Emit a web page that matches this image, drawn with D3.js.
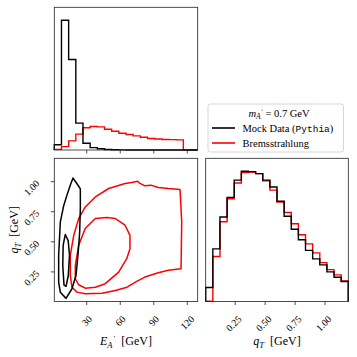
<!DOCTYPE html>
<html><head><meta charset="utf-8">
<script src="https://cdn.jsdelivr.net/npm/d3@7"></script>
<style>body{margin:0;background:#fff} svg{display:block}</style>
</head><body>
<svg id="c" width="357" height="357"></svg>
<script>
// ---------- data ----------
const eRange = [1.0, 129.3];      // E_A' histogram / axis range [GeV]
const qRange = [0.004, 1.194];    // q_T histogram / axis range [GeV]
const nBins = 20;
const eHistMock = [4.1, 100, 69.8, 20.7, 5.2, 1.8, 1.0, 0.4, 0.2, 0.1, 0, 0, 0, 0, 0, 0, 0, 0, 0, 0];
const eHistBrem = [0.5, 2.6, 7.0, 12.2, 17.1, 18.1, 17.8, 16.0, 14.5, 12.9, 11.9, 10.9, 9.8, 8.9, 8.5, 8.1, 8.0, 7.8, 0, 0];
const qHistMock = [14, 52.5, 84.2, 103.8, 121, 129.8, 129.5, 127.5, 121, 114.2, 100, 85, 72, 61.5, 51, 42.5, 36.5, 29.5, 24.2, 20];
const qHistBrem = [0.3, 44.8, 79.5, 102.5, 118.2, 128.5, 129, 127.5, 120.3, 111, 99.2, 88.8, 77.5, 66.5, 57.5, 48.5, 38.8, 31.8, 26.5, 20.5];
const eTicks = [30, 60, 90, 120];
const eTickLabels = ["30", "60", "90", "120"];
const qTicks = [0.25, 0.5, 0.75, 1.0];
const qTickLabels = ["0.25", "0.50", "0.75", "1.00"];
// 2D contours [E_A', q_T]
const mockOuter = [[17.7,1.03],[22.2,0.97],[24.3,0.94],[24.3,0.78],[23.7,0.58],[22.2,0.39],[20.4,0.22],[16.8,0.11],[11.5,0.03],[6.4,0.08],[4.9,0.165],[4.9,0.39],[6.4,0.665],[9.4,0.80],[12.4,0.89],[15.3,0.97]];
const mockInner = [[10.8,0.56],[13.4,0.51],[14.6,0.39],[13.5,0.22],[11.5,0.13],[9.7,0.14],[8.6,0.30],[8.9,0.47]];
const bremOuter = [[16.8,0.123],[21.3,0.082],[28.7,0.068],[43.7,0.073],[55.6,0.096],[66.0,0.123],[74.7,0.171],[82.1,0.207],[94.0,0.243],[103.0,0.263],[114.4,0.277],[115.0,0.665],[113.5,0.935],[103.0,0.943],[94.0,0.952],[87.5,0.971],[82.1,0.965],[77.7,0.985],[75.6,1.004],[70.2,0.993],[64.3,0.985],[49.7,0.943],[37.7,0.873],[28.7,0.790],[22.8,0.693],[18.4,0.554],[15.3,0.388],[15.3,0.221]];
const bremInner = [[48.1,0.702],[37.7,0.693],[28.7,0.61],[22.8,0.471],[19.8,0.304],[19.8,0.193],[22.8,0.143],[28.7,0.115],[37.7,0.123],[46.6,0.152],[58.6,0.248],[65.8,0.36],[68.7,0.443],[68.7,0.554],[64.3,0.638],[55.6,0.693]];
const seriesNames = ["Mock Data (", "Pythia", ")"];
const seriesColors = ["#000000", "#ff0000"];

// ---------- layout ----------
const svg = d3.select("#c");
const FONT = "'Liberation Serif', 'DejaVu Serif', serif";
const P1 = {x0: 54.3, x1: 197.7, y0: 7.3, y1: 150};      // top-left
const P2 = {x0: 54.3, x1: 197.7, y0: 158.3, y1: 301.5};  // bottom-left
const P3 = {x0: 205.7, x1: 348.3, y0: 158.3, y1: 301.5}; // bottom-right

const xE = d3.scaleLinear().domain(eRange).range([P1.x0, P1.x1]);
const xQ = d3.scaleLinear().domain(qRange).range([P3.x0, P3.x1]);
const yQ = d3.scaleLinear().domain(qRange).range([P2.y1, P2.y0]);
const yH1 = d3.scaleLinear().domain([0, 1.1 * d3.max(eHistMock.concat(eHistBrem))]).range([P1.y1, P1.y0]);
const yH3 = d3.scaleLinear().domain([0, 1.1 * d3.max(qHistMock.concat(qHistBrem))]).range([P3.y1, P3.y0]);

function edges(range) {
  const s = d3.scaleLinear().domain([0, nBins]).range(range);
  return d3.range(nBins + 1).map(s);
}
function stepPath(vals, ed, xs, ys) {
  const pts = [[xs(ed[0]), ys(0)]];
  vals.forEach((v, i) => { pts.push([xs(ed[i]), ys(v)]); pts.push([xs(ed[i+1]), ys(v)]); });
  pts.push([xs(ed[nBins]), ys(0)]);
  return d3.line()(pts);
}

// top histogram
const eEd = edges(eRange);
[[eHistBrem, seriesColors[1]], [eHistMock, seriesColors[0]]].forEach(([v, c]) => {
  svg.append("path").attr("d", stepPath(v, eEd, xE, yH1)).attr("fill", "none")
    .attr("stroke", c).attr("stroke-width", 1.4).attr("stroke-linejoin", "miter");
});
// right histogram
const qEd = edges(qRange);
[[qHistBrem, seriesColors[1]], [qHistMock, seriesColors[0]]].forEach(([v, c]) => {
  svg.append("path").attr("d", stepPath(v, qEd, xQ, yH3)).attr("fill", "none")
    .attr("stroke", c).attr("stroke-width", 1.4).attr("stroke-linejoin", "miter");
});
// contours
const cl = d3.line().x(d => xE(d[0])).y(d => yQ(d[1])).curve(d3.curveLinearClosed);
[[bremOuter, seriesColors[1]], [bremInner, seriesColors[1]], [mockOuter, seriesColors[0]], [mockInner, seriesColors[0]]].forEach(([pts, c]) => {
  svg.append("path").attr("d", cl(pts)).attr("fill", "none").attr("stroke", c)
    .attr("stroke-width", 1.5).attr("stroke-linejoin", "round");
});

// frames
[P1, P2, P3].forEach(p => {
  svg.append("rect").attr("x", p.x0).attr("y", p.y0).attr("width", p.x1 - p.x0).attr("height", p.y1 - p.y0)
    .attr("fill", "none").attr("stroke", "#222").attr("stroke-width", 0.8);
});

// ticks
function xTicks(p, sc, ticks) {
  ticks.forEach(t => svg.append("line").attr("x1", sc(t)).attr("x2", sc(t)).attr("y1", p.y1).attr("y2", p.y1 + 3.5)
    .attr("stroke", "#222").attr("stroke-width", 0.8));
}
xTicks(P1, xE, eTicks);
xTicks(P2, xE, eTicks);
xTicks(P3, xQ, qTicks);
qTicks.forEach(t => svg.append("line").attr("x1", P2.x0 - 3.5).attr("x2", P2.x0).attr("y1", yQ(t)).attr("y2", yQ(t))
  .attr("stroke", "#222").attr("stroke-width", 0.8));

// tick labels (rotated 45°)
const TFS = 9.8;
function rotLabelX(txt, x) {
  const t = svg.append("text").text(txt).attr("font-family", FONT).attr("font-size", TFS)
    .attr("text-anchor", "middle").attr("dominant-baseline", "central").attr("fill", "#000");
  const L = t.node().getComputedTextLength();
  const cy = 315 + (L + 6.8) / 2.83;
  t.attr("transform", `translate(${x},${cy}) rotate(-45)`);
}
eTicks.forEach((v, i) => rotLabelX(eTickLabels[i], xE(v)));
qTicks.forEach((v, i) => rotLabelX(qTickLabels[i], xQ(v) - 1.5));
qTicks.forEach((v, i) => {
  const t = svg.append("text").text(qTickLabels[i]).attr("font-family", FONT).attr("font-size", TFS)
    .attr("text-anchor", "middle").attr("dominant-baseline", "central").attr("fill", "#000");
  const L = t.node().getComputedTextLength();
  const cx = 40 - (L + 6.8) / 2.83;
  t.attr("transform", `translate(${cx},${yQ(v) + 6}) rotate(-45)`);
});

// axis labels
const LFS = 12;
function qLabel(g) {
  g.append("tspan").attr("font-style", "italic").text("q");
  g.append("tspan").attr("font-style", "italic").attr("font-size", 8.5).attr("dy", 2.5).text("T");
  g.append("tspan").attr("dy", -2.5).text("\u2002[GeV]");
}
const xl = svg.append("text").attr("x", (P2.x0 + P2.x1) / 2).attr("y", 345).attr("text-anchor", "middle")
  .attr("font-family", FONT).attr("font-size", LFS).attr("fill", "#000");
xl.append("tspan").attr("font-style", "italic").text("E");
xl.append("tspan").attr("font-style", "italic").attr("font-size", 8.5).attr("dy", 2.5).text("A");
xl.append("tspan").attr("font-size", 8.5).attr("dx", 0.8).attr("dy", -4.5).attr("font-family", "'DejaVu Serif', serif").text("\u2032");
xl.append("tspan").attr("dy", 2).text("\u2002[GeV]");

const xl3 = svg.append("text").attr("x", (P3.x0 + P3.x1) / 2).attr("y", 345).attr("text-anchor", "middle")
  .attr("font-family", FONT).attr("font-size", LFS).attr("fill", "#000");
qLabel(xl3);
const yl = svg.append("text").attr("transform", `translate(18,${(P2.y0 + P2.y1) / 2}) rotate(-90)`).attr("text-anchor", "middle")
  .attr("font-family", FONT).attr("font-size", LFS).attr("fill", "#000");
qLabel(yl);

// legend
const lg = svg.append("g");
lg.append("rect").attr("x", 208).attr("y", 104).attr("width", 135.5).attr("height", 48).attr("rx", 2.5)
  .attr("fill", "#fff").attr("fill-opacity", 0.8).attr("stroke", "#cccccc").attr("stroke-width", 0.8);
const tt = lg.append("text").attr("x", 279).attr("y", 117).attr("text-anchor", "middle")
  .attr("font-family", FONT).attr("font-size", 10.5).attr("fill", "#000");
tt.append("tspan").attr("font-style", "italic").text("m");
tt.append("tspan").attr("font-style", "italic").attr("font-size", 7.5).attr("dy", 2).text("A");
tt.append("tspan").attr("font-size", 7.5).attr("dx", 0.6).attr("dy", -4).attr("font-family", "'DejaVu Serif', serif").text("\u2032");
tt.append("tspan").attr("dy", 2).text(" = 0.7 GeV");
const rowsY = [128, 143];
rowsY.forEach((y, i) => lg.append("line").attr("x1", 212).attr("x2", 235).attr("y1", y).attr("y2", y)
  .attr("stroke", seriesColors[i]).attr("stroke-width", 1.6));
const t1 = lg.append("text").attr("x", 242.5).attr("y", rowsY[0] + 3.5).attr("font-family", FONT).attr("font-size", 10.5).attr("fill", "#000");
t1.append("tspan").text(seriesNames[0]);
t1.append("tspan").attr("font-family", "'Liberation Mono', 'DejaVu Sans Mono', monospace").attr("font-size", 9.5).text(seriesNames[1]);
t1.append("tspan").text(seriesNames[2]);
lg.append("text").attr("x", 242.5).attr("y", rowsY[1] + 3.5).attr("font-family", FONT).attr("font-size", 10.5)
  .attr("fill", "#000").text("Bremsstrahlung");
</script>
</body></html>
